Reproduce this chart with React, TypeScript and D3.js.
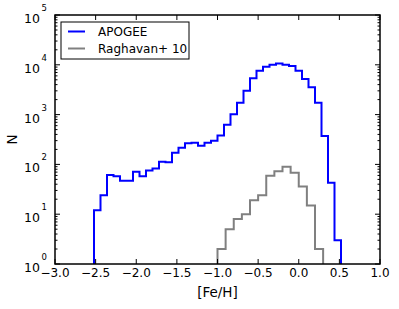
import React from "react";
import * as d3 from "d3";

// histogram counts (bins of 0.08 dex from -2.52)
const apogeeStart = -2.52;
const apogeeBin = 0.08;
const apogeeCounts = [
  12, 24, 61, 58, 47, 47, 71, 58, 75, 83,
  113, 110, 172, 216, 265, 273, 237, 273, 299, 380,
  627, 1014, 1734, 3020, 5357, 7620, 9160, 10000, 10620, 10050,
  9460, 7620, 5190, 3532, 1734, 372, 43, 3,
];

// Raghavan+ 10 sample, bins of 0.1 dex from -1.0
const ragStart = -1.0;
const ragBin = 0.1;
const ragCounts = [2, 5, 8, 10, 19, 24, 59, 73, 90, 68, 36, 15, 2];

const xTicks = [-3.0, -2.5, -2.0, -1.5, -1.0, -0.5, 0.0, 0.5, 1.0];
const yTicks = [1, 10, 100, 1000, 10000, 100000];

const W = 399, H = 309;
const margin = { top: 15, right: 19, bottom: 45, left: 55 };
const font = "'DejaVu Sans', sans-serif";

function stepPath(start: number, bin: number, counts: number[], x: any, y: any, base: number) {
  const p = d3.path();
  p.moveTo(x(start), base);
  counts.forEach((c, i) => {
    const x0 = x(start + i * bin);
    const x1 = x(start + (i + 1) * bin);
    p.lineTo(x0, y(c));
    p.lineTo(x1, y(c));
  });
  p.lineTo(x(start + counts.length * bin), base);
  return p.toString();
}

export default function App() {
  const left = margin.left, right = W - margin.right;
  const top = margin.top, bottom = H - margin.bottom;
  const x = d3.scaleLinear().domain([-3, 1]).range([left, right]);
  const y = d3.scaleLog().domain([1, 1e5]).range([bottom, top]);

  // minor log ticks 2..9 in each decade
  const minor: number[] = [];
  for (let e = 0; e < 5; e++) for (let m = 2; m <= 9; m++) minor.push(m * Math.pow(10, e));

  const fmt = (v: number) => (v < 0 ? "\u2212" : "") + Math.abs(v).toFixed(1);

  return (
    <svg width={W} height={H} style={{ position: "fixed", left: 0, top: 0, background: "#fff" }}
      fontFamily={font}>
      <defs>
        <clipPath id="plot">
          <rect x={left} y={top} width={right - left} height={bottom - top} />
        </clipPath>
      </defs>

      <g clipPath="url(#plot)" fill="none" strokeLinejoin="miter">
        <path d={stepPath(apogeeStart, apogeeBin, apogeeCounts, x, y, bottom)} stroke="#0000ff" strokeWidth={2} />
        <path d={stepPath(ragStart, ragBin, ragCounts, x, y, bottom)} stroke="#808080" strokeWidth={2} />
      </g>

      {/* ticks, pointing inward */}
      <g stroke="#000" strokeWidth={1}>
        {xTicks.map((t) => (
          <g key={"x" + t}>
            <line x1={x(t)} x2={x(t)} y1={bottom} y2={bottom - 5} />
            <line x1={x(t)} x2={x(t)} y1={top} y2={top + 5} />
          </g>
        ))}
        {yTicks.map((t) => (
          <g key={"y" + t}>
            <line x1={left} x2={left + 5} y1={y(t)} y2={y(t)} />
            <line x1={right} x2={right - 5} y1={y(t)} y2={y(t)} />
          </g>
        ))}
        {minor.map((t) => (
          <g key={"m" + t}>
            <line x1={left} x2={left + 2.5} y1={y(t)} y2={y(t)} />
            <line x1={right} x2={right - 2.5} y1={y(t)} y2={y(t)} />
          </g>
        ))}
      </g>

      <rect x={left} y={top} width={right - left} height={bottom - top} fill="none" stroke="#000" strokeWidth={1.5} />

      {xTicks.map((t) => (
        <text key={"xl" + t} x={x(t)} y={bottom + 13} fontSize={12} textAnchor="middle">
          {fmt(t)}
        </text>
      ))}
      {yTicks.map((t) => (
        <g key={"yl" + t}>
          <text x={40} y={y(t) + 8} fontSize={12.5} textAnchor="end">10</text>
          <text x={41.5} y={y(t) - 4} fontSize={8.5}>{Math.round(Math.log10(t))}</text>
        </g>
      ))}

      <text x={(left + right) / 2} y={bottom + 33} fontSize={13.5} textAnchor="middle">[Fe/H]</text>
      <text transform={`translate(16.5,${(top + bottom) / 2}) rotate(-90)`} fontSize={13.5} textAnchor="middle">N</text>

      {/* legend */}
      <g>
        <rect x={61} y={22} width={128} height={37} fill="#fff" stroke="#000" strokeWidth={1} />
        <line x1={68} x2={85} y1={31.5} y2={31.5} stroke="#0000ff" strokeWidth={2} />
        <line x1={68} x2={85} y1={48.5} y2={48.5} stroke="#808080" strokeWidth={2} />
        <text x={98} y={36} fontSize={12}>APOGEE</text>
        <text x={98} y={52.5} fontSize={12}>Raghavan+ 10</text>
      </g>
    </svg>
  );
}
